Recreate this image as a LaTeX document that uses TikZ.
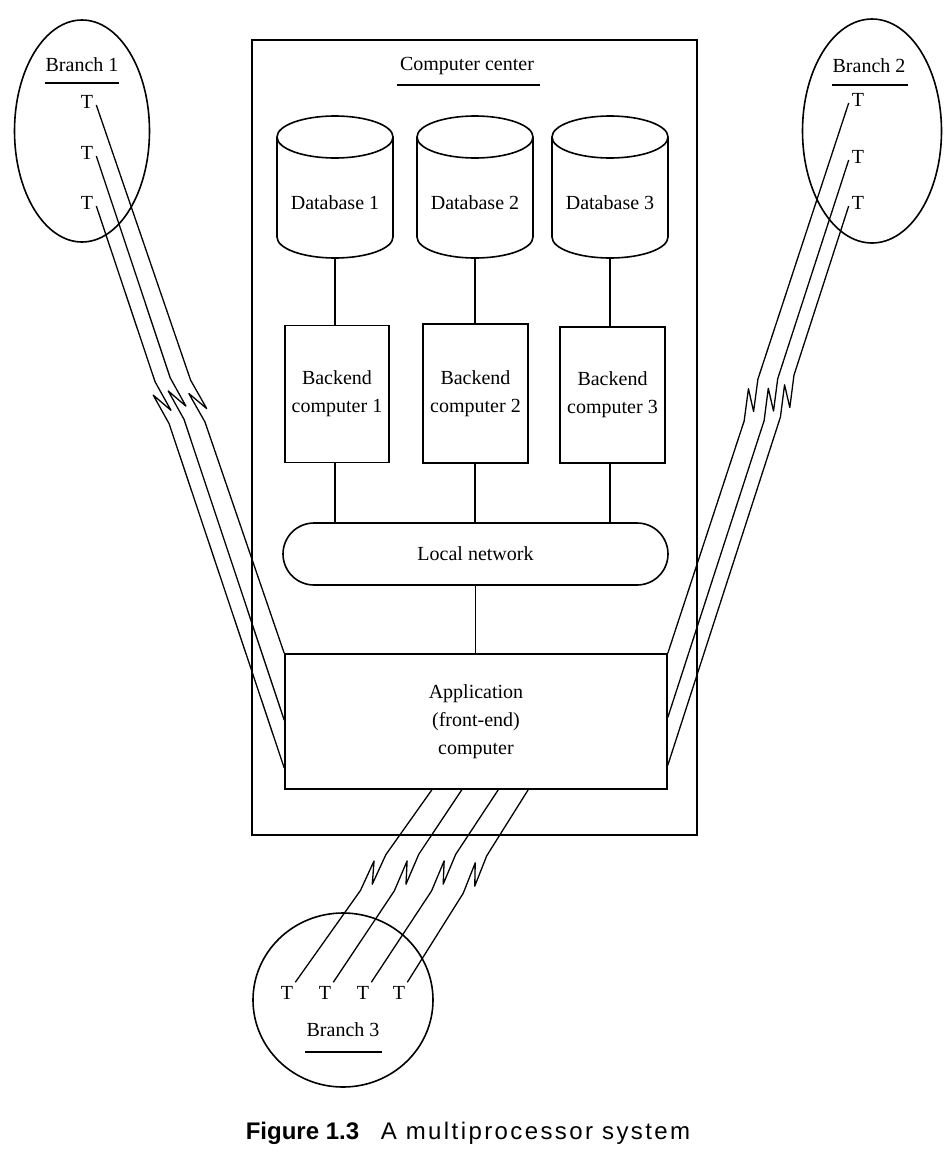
\documentclass[tikz,border=0pt]{standalone}
\usepackage{fontspec}
\setmainfont{Liberation Serif}
\newfontfamily\capfont{Liberation Sans}
\newfontfamily\capfontwide[LetterSpace=10]{Liberation Sans}
\usetikzlibrary{shapes.geometric,shapes.misc,calc}
\begin{document}
\begin{tikzpicture}[x=1pt,y=-1pt,
  box/.style={draw, line width=1.6pt, inner sep=0pt, align=center, font=\fontsize{20}{28}\selectfont},
  lbl/.style={inner sep=0pt, font=\fontsize{20}{24}\selectfont},
  tm/.style={inner sep=0pt, font=\fontsize{20}{24}\selectfont},
  uline/.style={line width=1.6pt},
  link/.style={line width=1.3pt, line join=round},
  wire/.style={line width=1.4pt},
  zig/.style={to path={let \p1=(\tikztostart), \p2=(\tikztotarget),
     \n1={atan2(\y2-\y1,\x2-\x1)}, \p3=($(\p1)!#1!(\p2)$) in
     -- ($(\p3)+(\n1+180:22pt)$)
     -- ($(\p3)+(\n1:10pt)+(\n1+90:6pt)$)
     -- ($(\p3)+(\n1+180:10pt)+(\n1-90:6pt)$)
     -- ($(\p3)+(\n1:22pt)$) -- (\p2)}}
]
\useasboundingbox[fill=white] (0,0) rectangle (944,1162);

% computer center frame
\node[box, line width=2pt, minimum width=445pt, minimum height=795pt] (cc) at (474.5,437.5) {};
\node[lbl] (cctitle) at (467,66) {Computer center};
\draw[uline] (397,85) -- (540,85);

% databases
\foreach \c in {335,475,610}{
  \draw[line width=1.6pt] (\c,137) ellipse [x radius=58, y radius=21];
  \draw[line width=1.6pt] (\c-58,137) -- (\c-58,237) arc[start angle=180, end angle=0, x radius=58, y radius=21] -- (\c+58,137);
}
\node[lbl, minimum width=116pt, minimum height=108pt] (db1) at (335,203) {Database 1};
\node[lbl, minimum width=116pt, minimum height=108pt] (db2) at (475,203) {Database 2};
\node[lbl, minimum width=116pt, minimum height=108pt] (db3) at (610,203) {Database 3};

% backend computers
\node[box, minimum width=104pt, minimum height=137pt] (bc1) at (337,394) {Backend\\computer 1};
\node[box, minimum width=105pt, minimum height=139pt] (bc2) at (475.5,393.5) {Backend\\computer 2};
\node[box, minimum width=105pt, minimum height=136pt] (bc3) at (612.5,395) {Backend\\computer 3};

% local network
\node[box, rounded rectangle, minimum width=385pt, minimum height=62pt] (ln) at (475.5,554) {Local network};

% application computer
\node[box, minimum width=382pt, minimum height=135pt] (app) at (476,721.5) {Application\\(front-end)\\computer};

% internal connections
\draw[wire] (db1.south) -- (db1.south |- bc1.north);
\draw[wire] (db2.south) -- (db2.south |- bc2.north);
\draw[wire] (db3.south) -- (db3.south |- bc3.north);
\draw[wire] (db1.south |- bc1.south) -- (db1.south |- ln.north);
\draw[wire] (db2.south |- bc2.south) -- (db2.south |- ln.north);
\draw[wire] (db3.south |- bc3.south) -- (db3.south |- ln.north);
\draw[wire] (ln.south) -- (ln.south |- app.north);

% Branch 1
\node[draw, ellipse, line width=1.6pt, inner sep=0pt, minimum width=135pt, minimum height=222pt] (b1) at (82,131) {};
\node[lbl] (b1t) at (82,65) {Branch 1};
\draw[uline] (45,83) -- (119,83);
\node[tm] (t11) at (87,102) {T};
\node[tm] (t12) at (87,153) {T};
\node[tm] (t13) at (87,203) {T};

% Branch 2
\node[draw, ellipse, line width=1.6pt, inner sep=0pt, minimum width=139pt, minimum height=224pt] (b2) at (872,131) {};
\node[lbl] (b2t) at (869,66) {Branch 2};
\draw[uline] (832,85) -- (908,85);
\node[tm] (t21) at (858,100) {T};
\node[tm] (t22) at (858,157) {T};
\node[tm] (t23) at (858,203) {T};

% Branch 3
\node[draw, ellipse, line width=1.6pt, inner sep=0pt, minimum width=180pt, minimum height=174pt] (b3) at (343,1000) {};
\node[tm] (t31) at (287,993) {T};
\node[tm] (t32) at (325,993) {T};
\node[tm] (t33) at (363,993) {T};
\node[tm] (t34) at (399,993) {T};
\node[lbl] (b3t) at (343,1030) {Branch 3};
\draw[uline] (305,1052) -- (382,1052);

% links Branch 1 -> application
\draw[link] ($(t11.east)+(3,3)$) to[zig=0.54] (app.north west);
\draw[link] ($(t12.east)+(3,3)$) to[zig=0.43] ($(app.north west)!0.49!(app.south west)$);
\draw[link] ($(t13.east)+(3,3)$) to[zig=0.35] ($(app.north west)!0.84!(app.south west)$);

% links Branch 2 -> application
\draw[link] ($(t21.west)+(-3,3)$) to[zig=0.54] (app.north east);
\draw[link] ($(t22.west)+(-3,3)$) to[zig=0.43] ($(app.north east)!0.47!(app.south east)$);
\draw[link] ($(t23.west)+(-3,3)$) to[zig=0.34] ($(app.north east)!0.82!(app.south east)$);

% links Branch 3 -> application
\draw[link] ($(t31.north east)+(2,-4)$) to[zig=0.57] ($(app.south west)!0.385!(app.south east)$);
\draw[link] ($(t32.north east)+(2,-4)$) to[zig=0.57] ($(app.south west)!0.463!(app.south east)$);
\draw[link] ($(t33.north east)+(2,-4)$) to[zig=0.57] ($(app.south west)!0.558!(app.south east)$);
\draw[link] ($(t34.north east)+(2,-4)$) to[zig=0.56] ($(app.south west)!0.636!(app.south east)$);

% caption
\node[inner sep=0pt, font=\fontsize{24}{28}\selectfont] (cap) at (468,1133) {\capfont\textbf{Figure 1.3}\hspace{0.9em}\capfontwide A multiprocessor system};
\end{tikzpicture}
\end{document}
